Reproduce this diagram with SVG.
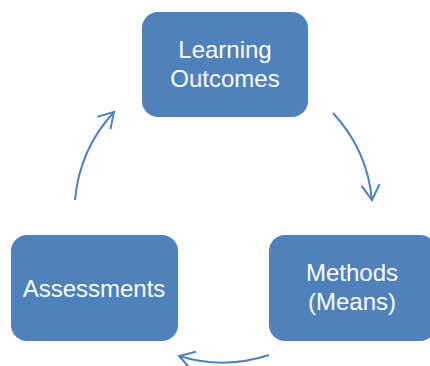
<svg xmlns="http://www.w3.org/2000/svg" width="430" height="366" viewBox="0 0 430 366">
<style>
.box{fill:#4F81BD;}
.lbl{font-family:"Liberation Sans",Arial,sans-serif;font-size:24px;fill:#FFFFFF;text-anchor:middle;}
.arc{fill:none;stroke:#4F81BD;stroke-width:2;}
</style>
<defs>
<marker id="ah" markerUnits="userSpaceOnUse" markerWidth="40" markerHeight="40" refX="0" refY="0" orient="auto" overflow="visible">
<path d="M -15 -9 L 0 0 L -15 9" fill="none" stroke="#4F81BD" stroke-width="2" stroke-linejoin="miter"/>
</marker>
</defs>
<rect width="430" height="366" fill="#FFFFFF"/>
<g id="connectors">
<path class="arc" d="M 333 113 A 149 149 0 0 1 372 200" marker-end="url(#ah)"/>
<path class="arc" d="M 269 355 A 149 149 0 0 1 179 356" marker-end="url(#ah)"/>
<path class="arc" d="M 75 200 A 149 149 0 0 1 114 112" marker-end="url(#ah)"/>
</g>
<g id="node-learning-outcomes">
<rect class="box" x="142" y="12" width="166" height="105" rx="16" ry="16"/>
<text class="lbl" x="225" y="58">Learning</text>
<text class="lbl" x="225" y="87">Outcomes</text>
</g>
<g id="node-methods">
<rect class="box" x="269" y="235" width="167" height="106" rx="16" ry="16"/>
<text class="lbl" x="352" y="281">Methods</text>
<text class="lbl" x="352" y="310">(Means)</text>
</g>
<g id="node-assessments">
<rect class="box" x="11" y="235" width="167" height="106" rx="16" ry="16"/>
<text class="lbl" x="94" y="297">Assessments</text>
</g>
</svg>
